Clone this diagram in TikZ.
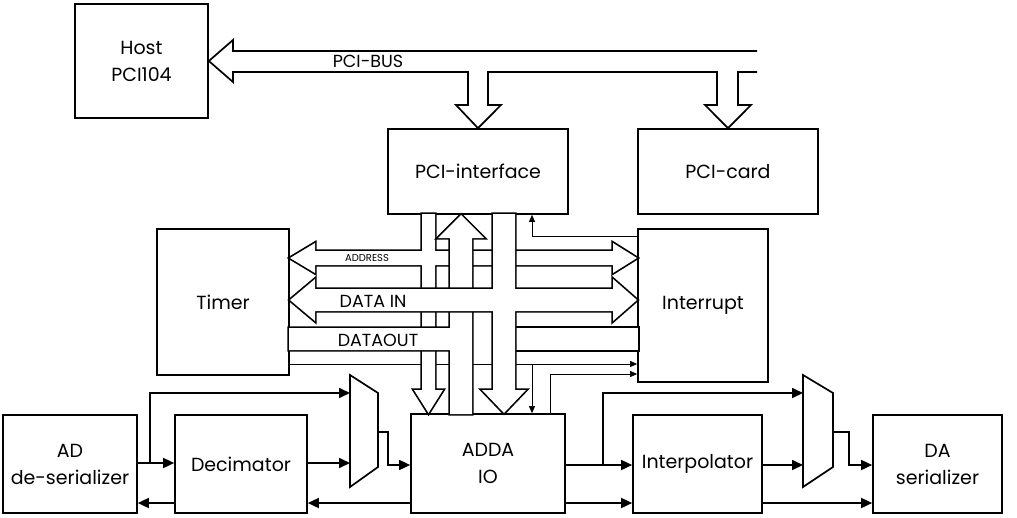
\documentclass[tikz,border=0pt]{standalone}
\usepackage{fontspec}
\setmainfont{Poppins}
\usetikzlibrary{arrows.meta}

\begin{document}
\begin{tikzpicture}[x=1pt,y=-1pt,
  box/.style={draw,line width=1.7pt,inner sep=0pt,align=center,font=\fontsize{19}{27}\selectfont},
  sig/.style={line width=1.7pt,-{Triangle[length=11pt,width=10pt]}},
  ctl/.style={line width=0.8pt,-{Triangle[length=7pt,width=6pt]}},
  bus/.style={line width=1.7pt},
  busfill/.style={fill=white,preaction={draw,line width=3.4pt}},
  buslab/.style={font=\fontsize{17.5}{20}\selectfont}]
\useasboundingbox (0,0) rectangle (1017,517);

\node[box,minimum width=133pt,minimum height=114pt] (host) at (141.5,61) {Host\\PCI104};
\node[box,minimum width=180pt,minimum height=85pt] (pciif) at (478,171.5) {PCI-interface};
\node[box,minimum width=180pt,minimum height=85pt] (pcicard) at (728,171.5) {PCI-card};
\node[box,minimum width=132pt,minimum height=146pt] (timer) at (223,302) {Timer};
\node[box,minimum width=130pt,minimum height=153pt] (intr) at (703,305.5) {Interrupt};
\node[box,minimum width=134pt,minimum height=98pt] (ad) at (70,464) {AD\\de-serializer};
\node[box,minimum width=132pt,minimum height=98pt] (dec) at (241,464) {Decimator};
\node[box,minimum width=154pt,minimum height=99pt] (adda) at (488,463.5) {ADDA\\IO};
\node[box,minimum width=129pt,minimum height=98pt] (interp) at (697.5,464) {Interpolator};
\node[box,minimum width=129pt,minimum height=98pt] (da) at (937.5,464) {DA\\serializer};

\draw[bus] (350,375) -- (378,393) -- (378,467) -- (350,487) -- cycle;
\draw[bus] (803,375) -- (833,393) -- (833,467) -- (803,487) -- cycle;
\coordinate (mux1a) at (350,393);
\coordinate (mux1b) at (350,463);
\coordinate (mux1o) at (378,432);
\coordinate (mux2a) at (803,393);
\coordinate (mux2b) at (803,465);
\coordinate (mux2o) at (833,432);
\coordinate (adbr) at (150,463);
\coordinate (addabr) at (603,465);
\coordinate (tbr) at (532,364);

% PCI bus
\draw[bus] (757,51) -- (233,51) -- (233,40) -- (host.east) -- (233,82) -- (233,72)
  -- (468,72) -- (468,105) -- (456,105) -- (pciif.north) -- (501,105) -- (488,105) -- (488,72)
  -- (717,72) -- (717,105) -- (705,105) -- (pcicard.north) -- (751,105) -- (738,105) -- (738,72) -- (757,72);
\node[buslab] (pcibus) at (368,61) {PCI-BUS};

\draw[ctl] (timer.east|-tbr) -- (intr.west|-tbr);
\draw[ctl] (tbr) -- (adda.north-|tbr);
\draw[ctl] (adda.north-|550,0) |- (intr.west|-0,374);
\draw[ctl] (intr.west|-0,236) -| (pciif.south-|532,0);

% address
\path[busfill] (290,258) -- (315,243) -- (315,251) -- (613,251) -- (613,243) -- (637,258)
  -- (613,273) -- (613,265) -- (315,265) -- (315,273) -- cycle
  (422,214) -- (435,214) -- (435,390) -- (443,390) -- (428.5,413) -- (414,390) -- (422,390) -- cycle;
% data out
\path[busfill] (500,328) -- (638,328) -- (638,350) -- (500,350) -- cycle;
\path[busfill] (289,328) -- (461,328) -- (461,350) -- (289,350) -- cycle
  (450,414) -- (450,238) -- (438,238) -- (461,215) -- (484,238) -- (472,238) -- (472,414) -- cycle;
% data in
\path[busfill] (290,300) -- (315,279) -- (315,289) -- (613,289) -- (613,279) -- (637,300)
  -- (613,321) -- (613,311) -- (315,311) -- (315,321) -- cycle
  (493,214) -- (515,214) -- (515,390) -- (526,390) -- (504,413) -- (482,390) -- (493,390) -- cycle;

\node[font=\fontsize{10}{12}\selectfont] (addrlab) at (367,258) {ADDRESS};
\node[buslab] (dinlab) at (373,301) {DATA IN};
\node[buslab] (doutlab) at (378,340) {DATAOUT};

\draw[sig] (ad.east|-adbr) -- (dec.west|-adbr);
\draw[sig] (adbr) |- (mux1a);
\draw[sig] (dec.east|-mux1b) -- (mux1b);
\draw[sig] (mux1o) -- ++(10,0) |- (adda.west|-0,465);
\draw[sig] (adda.west|-0,503) -- (dec.east|-0,503);
\draw[sig] (dec.west|-0,503) -- (ad.east|-0,503);
\draw[sig] (adda.east|-addabr) -- (interp.west|-addabr);
\draw[sig] (addabr) |- (mux2a);
\draw[sig] (interp.east|-mux2b) -- (mux2b);
\draw[sig] (mux2o) -- ++(16,0) |- (da.west|-0,465);
\draw[sig] (adda.east|-0,503) -- (interp.west|-0,503);
\draw[sig] (interp.east|-0,503) -- (da.west|-0,503);
\end{tikzpicture}
\end{document}
